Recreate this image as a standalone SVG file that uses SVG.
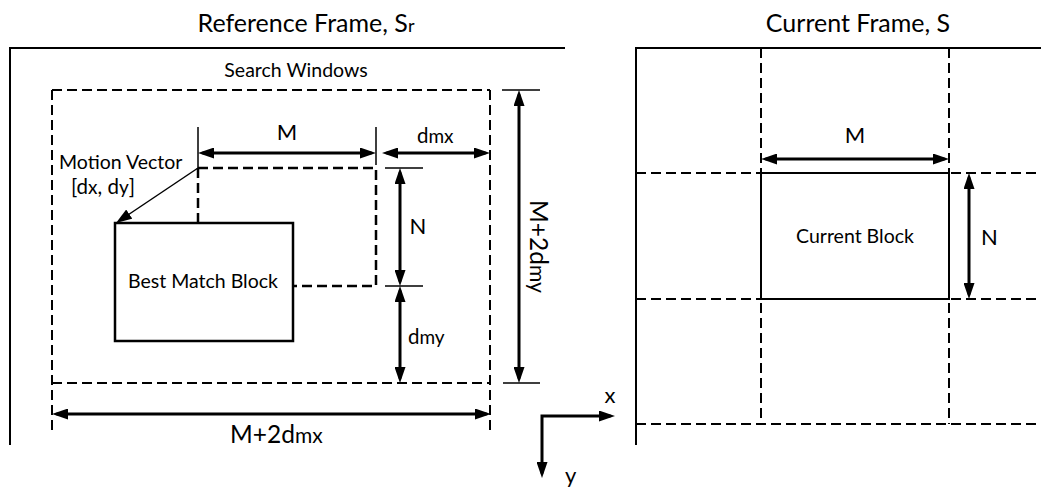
<svg xmlns="http://www.w3.org/2000/svg" width="1041" height="487" viewBox="0 0 1041 487">
<defs>
<style>
text{font-family:Lato,"Liberation Sans",sans-serif;fill:#000}
.t{font-size:25px}
.l{font-size:19.5px}
.b{font-size:22px}
.c{font-size:24.5px}
.s{font-size:18px}
.frame{fill:none;stroke:#000;stroke-width:2}
.dash{fill:none;stroke:#000;stroke-width:2;stroke-dasharray:10 5}
.dash2{fill:none;stroke:#000;stroke-width:2.5;stroke-dasharray:10 5}
.blk{fill:none;stroke:#000;stroke-width:2.5}
.thin{fill:none;stroke:#000;stroke-width:1.5}
.arr{fill:none;stroke:#000;stroke-width:3;marker-start:url(#ah);marker-end:url(#ah)}
.mv{fill:none;stroke:#000;stroke-width:1.5;marker-end:url(#ah)}
</style>
<marker id="ah" viewBox="0 0 16 11" refX="11.5" refY="5.5" markerWidth="16" markerHeight="11" markerUnits="userSpaceOnUse" orient="auto-start-reverse">
<path d="M0,0 L16,5.5 L0,11 z" fill="#000"/>
</marker>
</defs>

<g id="reference-frame">
<path class="frame" d="M10,445 L10,48 L565,48"/>
<text class="t" x="306" y="32" text-anchor="middle">Reference Frame, S<tspan class="s">r</tspan></text>
</g>

<g id="search-window">
<path class="dash" d="M52,90 L490,90 M52,383 L490,383 M52,90 L52,432 M490,90 L490,432"/>
<text class="l" x="296" y="77" text-anchor="middle">Search Windows</text>
</g>

<g id="previous-position">
<path class="dash2" d="M198,168 L376,168 L376,286 L294,286 M198,168 L198,223"/>
</g>

<g id="best-match-block">
<rect class="blk" x="115" y="223" width="178" height="118"/>
<text class="l" x="203" y="288" text-anchor="middle">Best Match Block</text>
</g>

<g id="motion-vector">
<text class="l" x="59" y="169">Motion Vector</text>
<text x="71" y="194" font-size="20.5">[d<tspan font-size="19">x</tspan>, d<tspan font-size="19">y</tspan>]</text>
</g>

<g id="current-frame">
<path class="frame" d="M636,445 L636,48 L1041,48"/>
<path class="dash" d="M761,48 L761,424 M949,48 L949,424 M636,173 L1041,173 M636,299 L1041,299 M636,424 L1041,424"/>
<text class="t" x="858" y="32" text-anchor="middle">Current Frame, S</text>
</g>

<g id="current-block">
<rect class="frame" x="761" y="173" width="188" height="126"/>
<text class="l" x="855" y="243" text-anchor="middle">Current Block</text>
</g>

<g id="axes">
<text class="b" x="610" y="403" text-anchor="middle">x</text>
<text class="b" x="565" y="483">y</text>
</g>

<g id="connectors">
<path class="thin" d="M198,127 L198,168 M376,127 L376,165 M385,168 L423,168 M385,286 L423,286 M502,90 L540,90 M503,383 L540,383"/>
<line class="arr" x1="202.5" y1="153" x2="371.5" y2="153"/>
<line class="arr" x1="386.5" y1="153" x2="485.5" y2="153"/>
<line class="arr" x1="400" y1="172.5" x2="400" y2="281.5"/>
<line class="arr" x1="400" y1="290.5" x2="400" y2="378.5"/>
<line class="arr" x1="519" y1="94.5" x2="519" y2="378.5"/>
<line class="arr" x1="56.5" y1="414" x2="486.5" y2="414"/>
<line class="mv" x1="198" y1="168" x2="119.7" y2="220.5"/>
<path class="arr" d="M610.5,416 L542,416 L542,473.5"/>
<line class="arr" x1="765.5" y1="159" x2="944.5" y2="159"/>
<line class="arr" x1="969" y1="177.5" x2="969" y2="294.5"/>
</g>

<g id="labels">
<text class="b" x="287" y="140" text-anchor="middle">M</text>
<text x="417" y="143" font-size="20.5">d<tspan font-size="19">mx</tspan></text>
<text class="b" x="418" y="234" text-anchor="middle">N</text>
<text x="408" y="344" font-size="20.5">d<tspan font-size="19">my</tspan></text>
<text class="c" x="230" y="443">M+2d<tspan font-size="21">mx</tspan></text>
<text class="c" transform="translate(530,200) rotate(90)">M+2d<tspan font-size="21">my</tspan></text>
<text class="b" x="855" y="143" text-anchor="middle">M</text>
<text class="b" x="981" y="245">N</text>
</g>
</svg>
